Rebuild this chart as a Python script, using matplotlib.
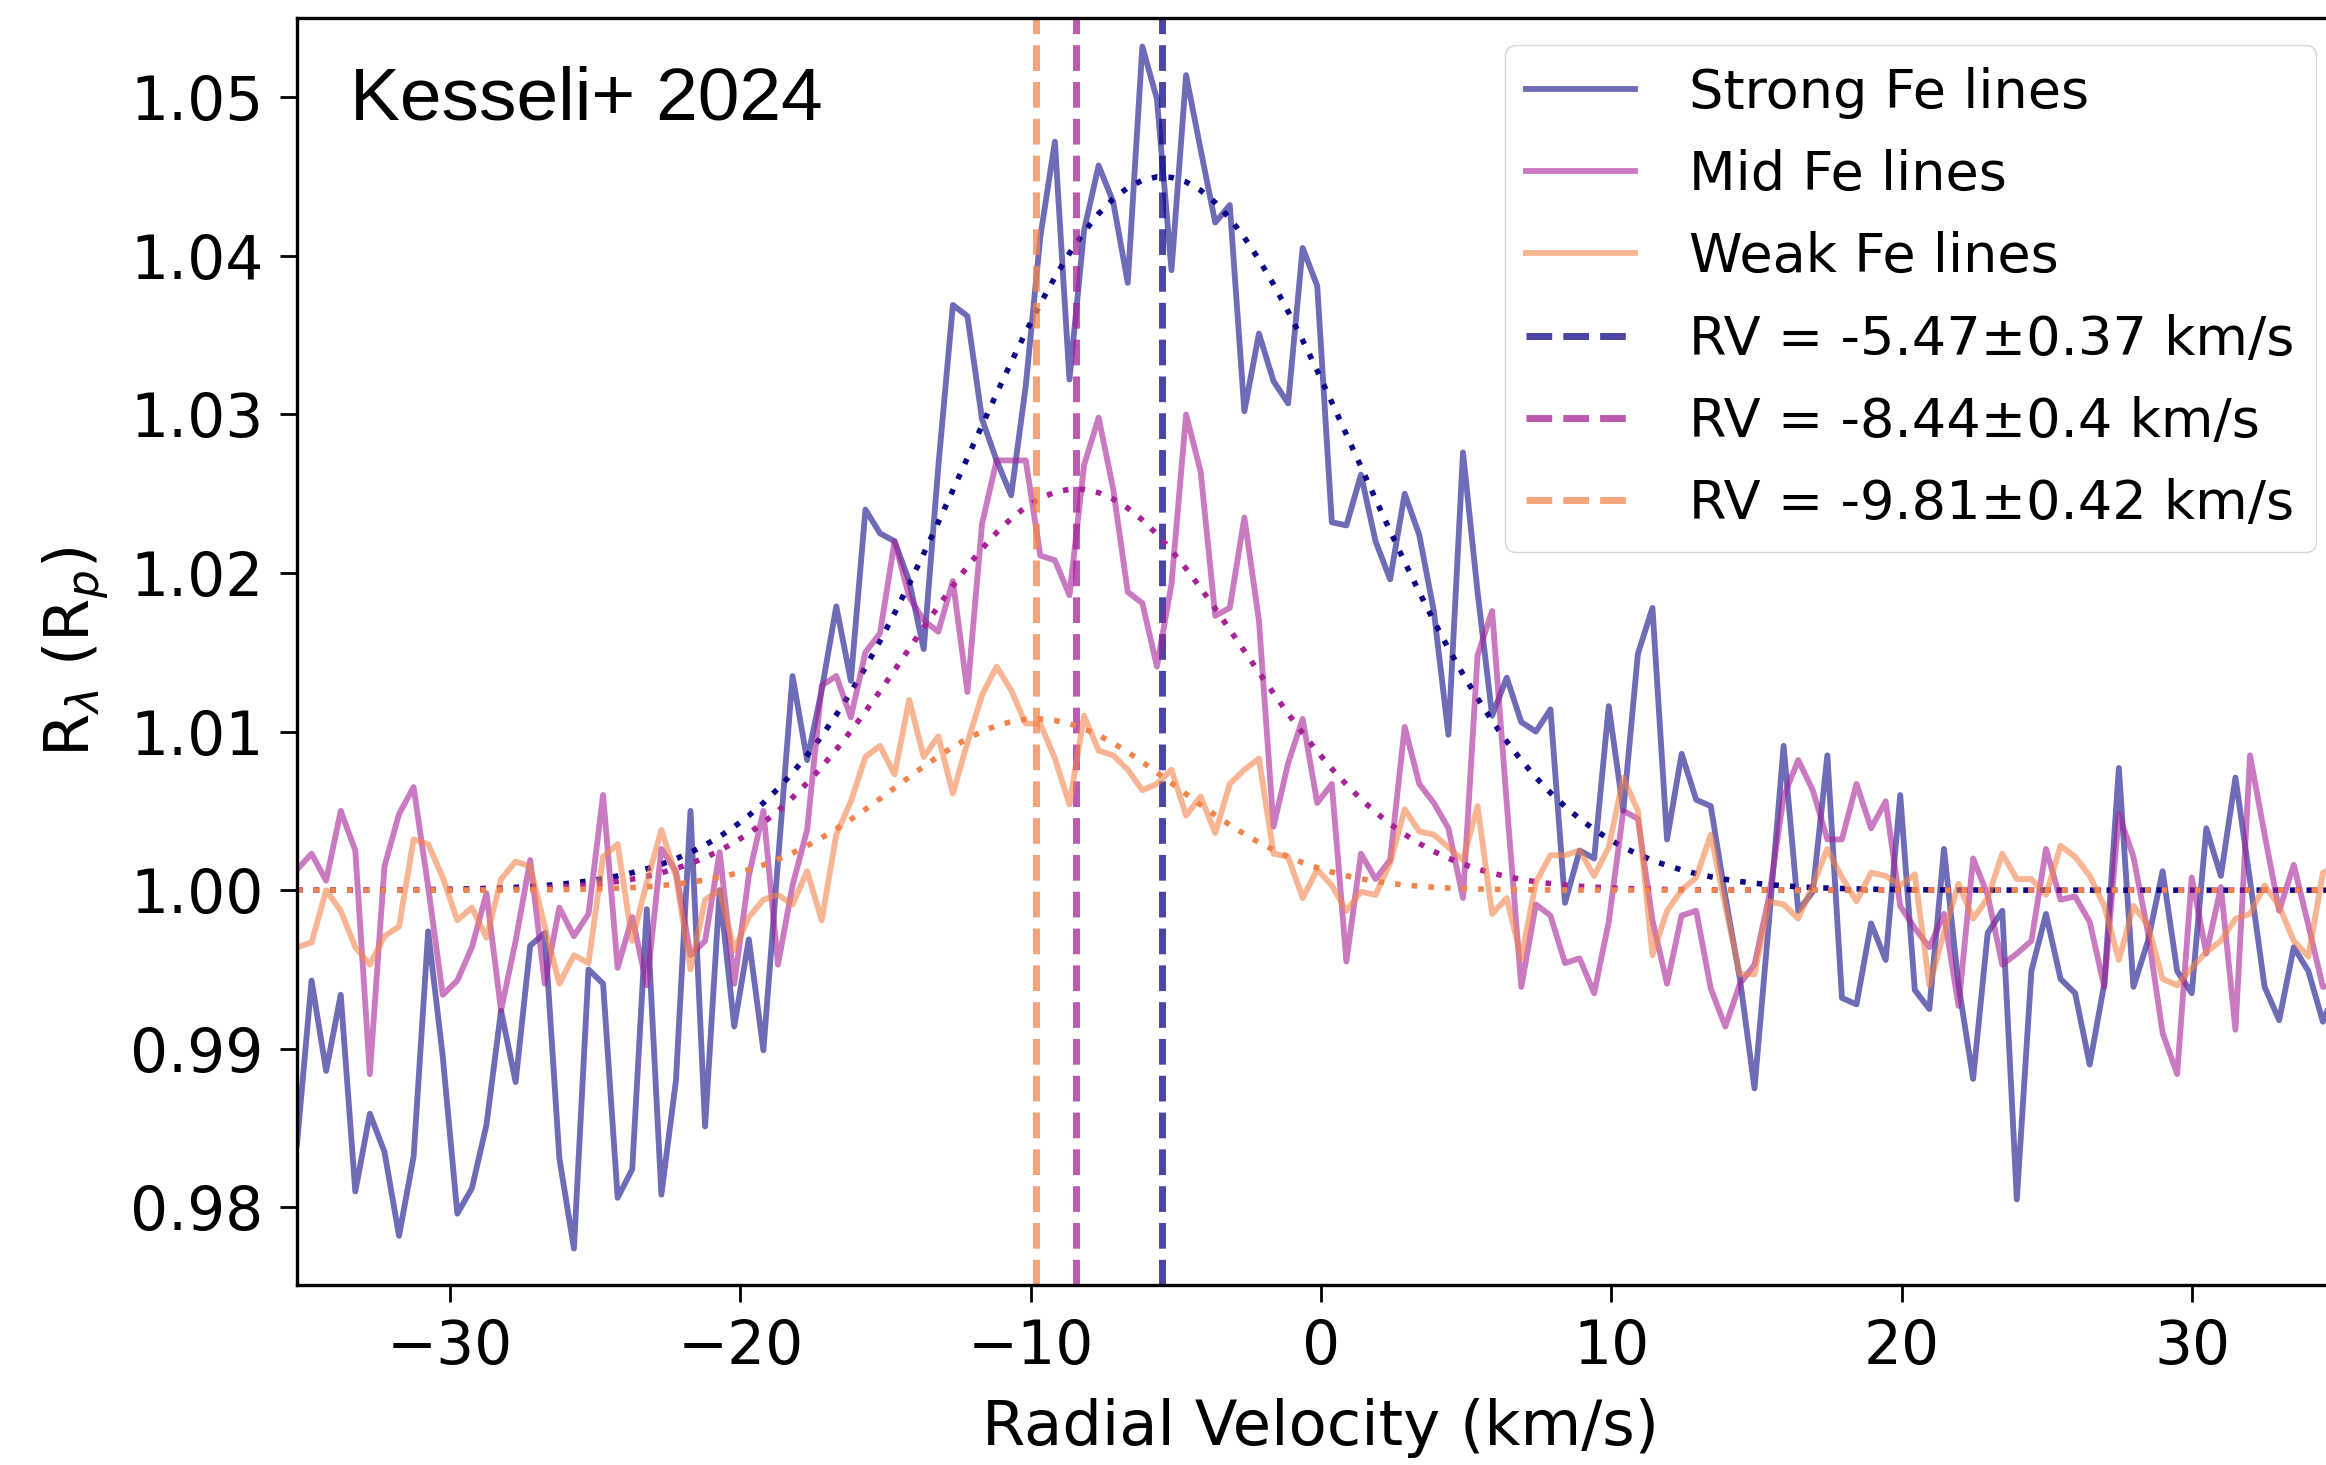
import numpy as np
import matplotlib.pyplot as plt

# velocity grid of the cross-correlation (km/s)
velocity = -35.27 + 0.502 * np.arange(141)

# R_lambda for the three line groups
strong = [0.9840, 0.9943, 0.9886, 0.9934, 0.9810, 0.9859, 0.9835, 0.9782, 0.9832, 0.9974,
          0.9895, 0.9796, 0.9812, 0.9852, 0.9924, 0.9879, 0.9965, 0.9973, 0.9831, 0.9774,
          0.9950, 0.9941, 0.9806, 0.9824, 0.9988, 0.9808, 0.9880, 1.0050, 0.9851, 1.0000,
          0.9914, 0.9969, 0.9899, 1.0018, 1.0135, 1.0082, 1.0126, 1.0179, 1.0132, 1.0240,
          1.0225, 1.0220, 1.0195, 1.0152, 1.0267, 1.0369, 1.0362, 1.0297, 1.0271, 1.0249,
          1.0318, 1.0412, 1.0472, 1.0322, 1.0416, 1.0457, 1.0434, 1.0383, 1.0532, 1.0499,
          1.0391, 1.0514, 1.0467, 1.0421, 1.0432, 1.0302, 1.0351, 1.0321, 1.0307, 1.0405,
          1.0381, 1.0232, 1.0230, 1.0262, 1.0220, 1.0196, 1.0250, 1.0224, 1.0176, 1.0098,
          1.0276, 1.0188, 1.0110, 1.0134, 1.0106, 1.0100, 1.0114, 0.9992, 1.0025, 1.0020,
          1.0116, 1.0050, 1.0149, 1.0178, 1.0032, 1.0086, 1.0057, 1.0053, 0.9996, 0.9944,
          0.9875, 0.9981, 1.0091, 0.9987, 0.9999, 1.0085, 0.9932, 0.9928, 0.9979, 0.9956,
          1.0060, 0.9937, 0.9925, 1.0026, 0.9940, 0.9881, 0.9973, 0.9987, 0.9805, 0.9949,
          0.9985, 0.9944, 0.9935, 0.9890, 0.9941, 1.0077, 0.9939, 0.9968, 1.0012, 0.9949,
          0.9935, 1.0039, 1.0009, 1.0071, 1.0006, 0.9939, 0.9918, 0.9964, 0.9949, 0.9917, 0.9940]

mid = [1.0013, 1.0023, 1.0006, 1.0050, 1.0025, 0.9884, 1.0015, 1.0048, 1.0065, 1.0002,
       0.9934, 0.9943, 0.9964, 0.9998, 0.9924, 0.9968, 1.0019, 0.9941, 0.9989, 0.9971,
       0.9985, 1.0060, 0.9951, 0.9983, 0.9940, 1.0026, 1.0012, 0.9959, 0.9968, 1.0024,
       0.9941, 1.0009, 1.0050, 0.9953, 1.0003, 1.0038, 1.0129, 1.0135, 1.0109, 1.0150,
       1.0162, 1.0220, 1.0185, 1.0170, 1.0163, 1.0195, 1.0125, 1.0231, 1.0271, 1.0271,
       1.0271, 1.0211, 1.0208, 1.0186, 1.0268, 1.0298, 1.0253, 1.0188, 1.0181, 1.0141,
       1.0193, 1.0300, 1.0264, 1.0173, 1.0178, 1.0235, 1.0170, 1.0040, 1.0080, 1.0108,
       1.0055, 1.0067, 0.9955, 1.0023, 1.0007, 1.0019, 1.0103, 1.0067, 1.0055, 1.0039,
       0.9995, 1.0148, 1.0176, 1.0055, 0.9939, 0.9991, 0.9984, 0.9954, 0.9957, 0.9935,
       0.9980, 1.0050, 1.0045, 0.9981, 0.9941, 0.9984, 0.9987, 0.9938, 0.9914, 0.9941,
       0.9953, 0.9996, 1.0059, 1.0082, 1.0063, 1.0032, 1.0032, 1.0067, 1.0039, 1.0056,
       0.9990, 0.9976, 0.9964, 0.9985, 0.9927, 1.0020, 0.9997, 0.9953, 0.9960, 0.9968,
       1.0026, 0.9994, 0.9996, 0.9980, 0.9939, 1.0048, 1.0021, 0.9973, 0.9910, 0.9884,
       1.0008, 0.9960, 1.0002, 0.9912, 1.0085, 1.0035, 0.9987, 1.0016, 0.9978, 0.9939, 0.9940]

weak = [0.9964, 0.9967, 1.0000, 0.9987, 0.9964, 0.9953, 0.9971, 0.9977, 1.0032, 1.0029,
        1.0008, 0.9981, 0.9989, 0.9970, 1.0007, 1.0018, 1.0015, 0.9977, 0.9941, 0.9959,
        0.9954, 1.0021, 1.0029, 0.9968, 1.0005, 1.0038, 1.0009, 0.9950, 0.9994, 1.0000,
        0.9962, 0.9983, 0.9994, 0.9997, 0.9991, 1.0012, 0.9981, 1.0035, 1.0056, 1.0084,
        1.0091, 1.0073, 1.0120, 1.0084, 1.0097, 1.0061, 1.0093, 1.0123, 1.0141, 1.0126,
        1.0105, 1.0105, 1.0083, 1.0054, 1.0110, 1.0088, 1.0085, 1.0076, 1.0063, 1.0067,
        1.0076, 1.0047, 1.0059, 1.0036, 1.0067, 1.0076, 1.0083, 1.0023, 1.0021, 0.9995,
        1.0013, 1.0003, 0.9987, 0.9999, 0.9997, 1.0017, 1.0051, 1.0037, 1.0035, 1.0027,
        1.0019, 1.0053, 0.9985, 0.9995, 0.9957, 1.0005, 1.0022, 1.0022, 1.0025, 1.0009,
        1.0027, 1.0071, 1.0050, 0.9959, 0.9987, 1.0000, 1.0008, 1.0035, 0.9990, 0.9947,
        0.9947, 0.9993, 0.9991, 0.9982, 1.0003, 1.0026, 1.0008, 0.9993, 1.0011, 1.0009,
        1.0003, 1.0010, 0.9940, 0.9973, 1.0004, 0.9982, 0.9995, 1.0023, 1.0007, 1.0007,
        0.9997, 1.0028, 1.0021, 1.0009, 0.9990, 0.9956, 0.9990, 0.9978, 0.9944, 0.9940,
        0.9951, 0.9961, 0.9968, 0.9982, 0.9985, 1.0003, 0.9990, 0.9968, 0.9958, 1.0011, 1.0015]

labels = ["Strong Fe lines", "Mid Fe lines", "Weak Fe lines"]
colors = ["#0d0887", "#a72197", "#f2844b"]

# gaussian fit results
rv = [-5.47, -8.44, -9.81]
rv_err = [0.37, 0.4, 0.42]
amp = [0.045, 0.0253, 0.0108]
sigma = [6.7, 5.7, 4.8]

fig = plt.figure(figsize=(23.26, 14.65), dpi=100)
ax = fig.add_axes([297 / 2326, 180 / 1465, 2046 / 2326, 1267 / 1465])

data_handles = []
rv_handles = []
for i, series in enumerate([strong, mid, weak]):
    h, = ax.plot(velocity, series, color=colors[i], alpha=0.6, lw=4.2, label=labels[i])
    data_handles.append(h)
    fit = 1 + amp[i] * np.exp(-0.5 * ((velocity - rv[i]) / sigma[i]) ** 2)
    ax.plot(velocity, fit, color=colors[i], lw=4, linestyle=(0, (1, 2.0)))
    v = ax.axvline(rv[i], color=colors[i], alpha=0.75, lw=5, linestyle="--",
                   label=f"RV = {rv[i]}±{rv_err[i]} km/s")
    rv_handles.append(v)

ax.set_xlim(-35.27, 35.2)
ax.set_ylim(0.9751, 1.0550)
ax.set_xticks([-30, -20, -10, 0, 10, 20, 30])
ax.set_yticks([0.98, 0.99, 1.00, 1.01, 1.02, 1.03, 1.04, 1.05])
ax.set_yticklabels([f"{t:.2f}" for t in ax.get_yticks()])
ax.tick_params(labelsize=43, length=12, width=2, pad=12)
for s in ax.spines.values():
    s.set_linewidth(2.4)

ax.set_xlabel("Radial Velocity (km/s)", fontsize=45, labelpad=15)
ax.set_ylabel(r"R$_\lambda$ (R$_p$)", fontsize=45, labelpad=14)

ax.legend(handles=data_handles + rv_handles, loc="upper right", fontsize=39,
          labelspacing=0.56, handletextpad=1.0)

ax.text(0.026, 0.9195, "Kesseli+ 2024", transform=ax.transAxes, fontsize=54,
        family="Liberation Sans", va="baseline")

fig.savefig("out.png", dpi=100)
